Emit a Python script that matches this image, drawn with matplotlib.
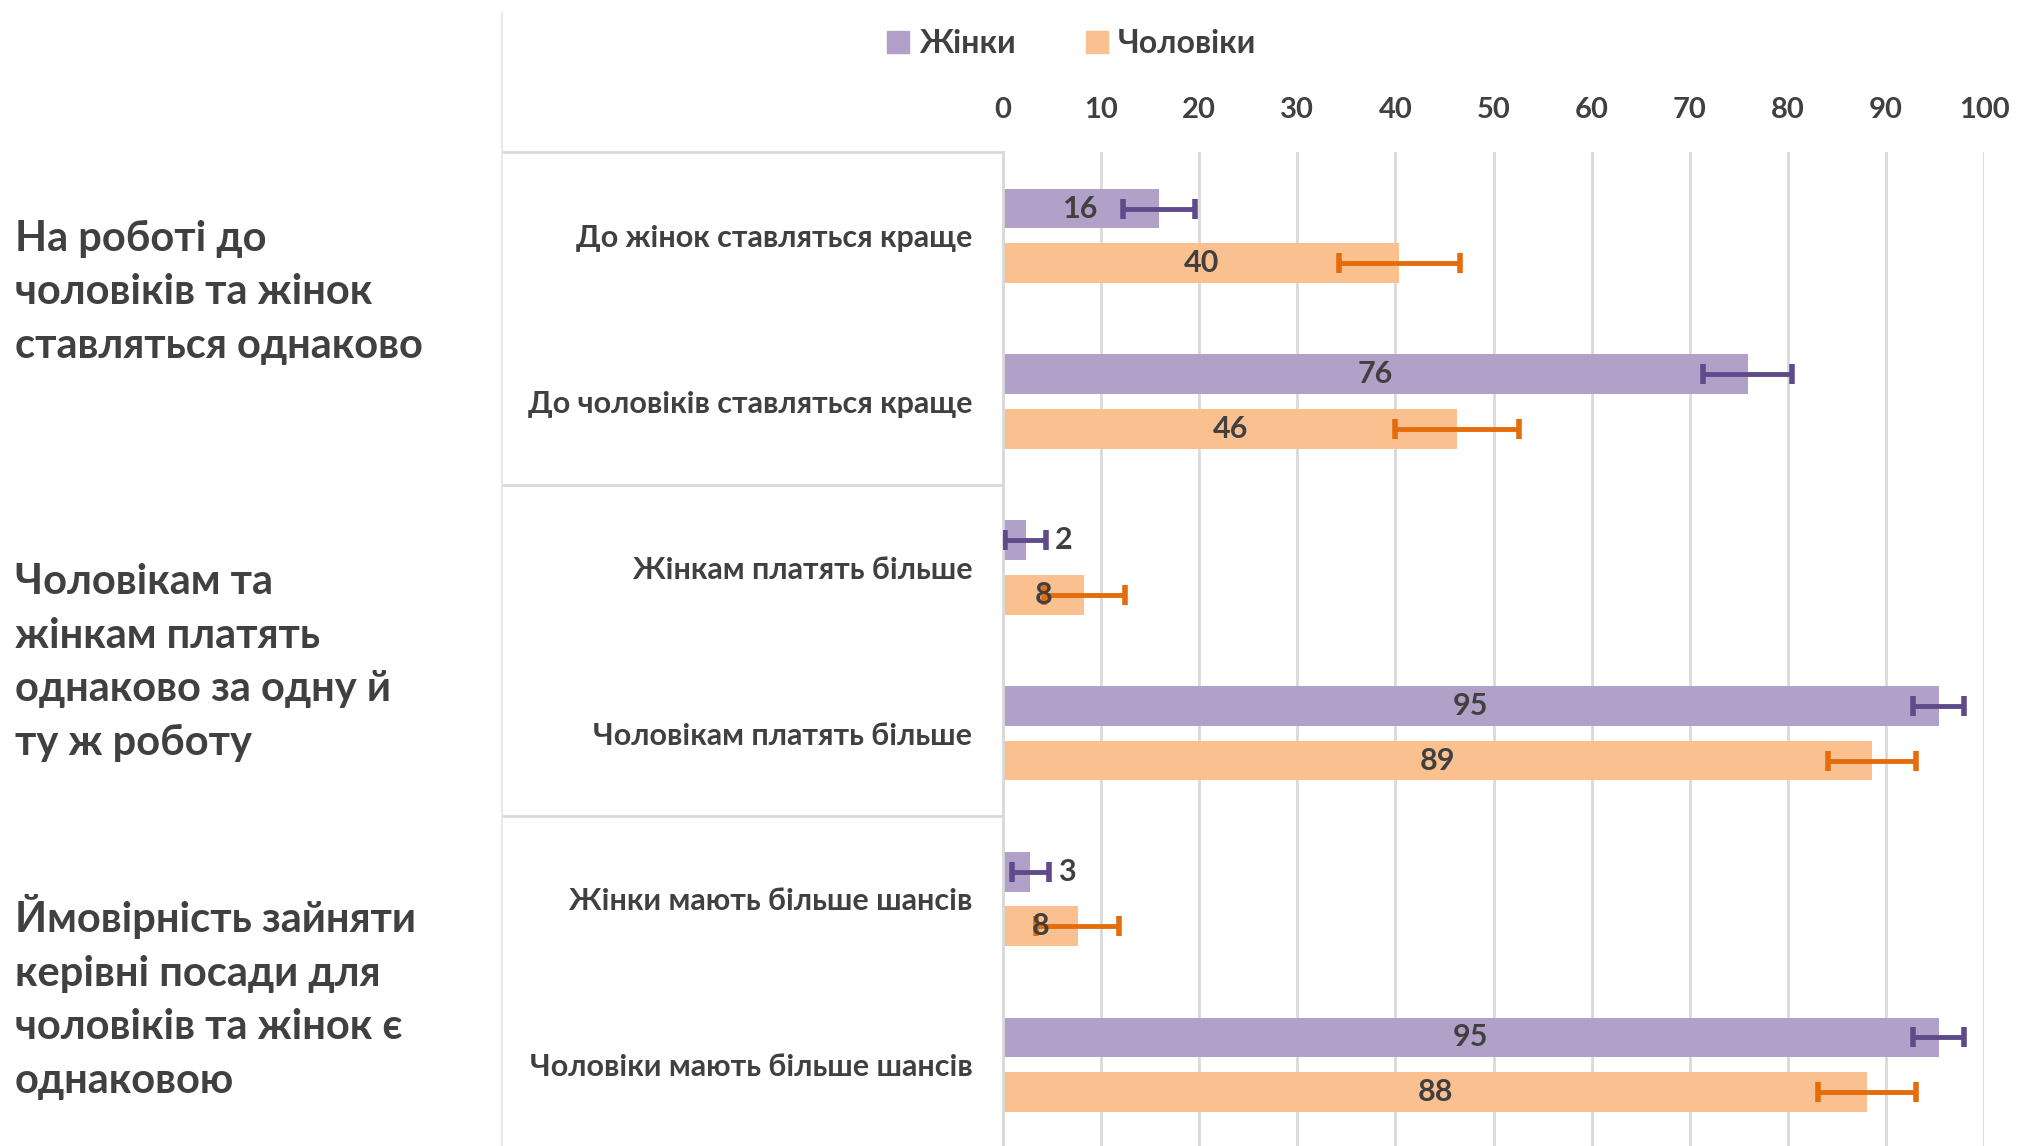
import numpy as np
import matplotlib
matplotlib.use("Agg")
import matplotlib.pyplot as plt
import matplotlib.transforms as mtransforms
from matplotlib.patches import Patch
from matplotlib.lines import Line2D

plt.rcParams['font.family'] = ['Lato', 'DejaVu Sans']

# data
categories = ["До жінок ставляться краще", "До чоловіків ставляться краще",
              "Жінкам платять більше", "Чоловікам платять більше",
              "Жінки мають більше шансів", "Чоловіки мають більше шансів"]
groups = ["На роботі до\nчоловіків та жінок\nставляться однаково",
          "Чоловікам та\nжінкам платять\nоднаково за одну й\nту ж роботу",
          "Ймовірність зайняти\nкерівні посади для\nчоловіків та жінок є\nоднаковою"]
series = ["Жінки", "Чоловіки"]
women = [15.9, 75.9, 2.3, 95.4, 2.8, 95.4]
women_err = [3.7, 4.5, 2.1, 2.6, 1.9, 2.6]
men = [40.4, 46.3, 8.3, 88.6, 7.6, 88.1]
men_err = [6.2, 6.3, 4.1, 4.5, 4.2, 5.0]
ticks = list(range(0, 101, 10))

# style
W, H = 2018, 1146
txt = '#404040'
grid_c = '#D9D9D9'
bar_cols = ['#B1A0C7', '#FAC090']
err_cols = ['#5F4B8B', '#E46C0A']

fig = plt.figure(figsize=(W / 100, H / 100), dpi=100)
ax = fig.add_axes([1003 / W, 0, 981 / W, 994 / H])

y = np.arange(len(categories))
off = 0.165
h = 0.24
for vals, errs, sign, bc, ec in [(women, women_err, -1, bar_cols[0], err_cols[0]),
                                 (men, men_err, 1, bar_cols[1], err_cols[1])]:
    yy = y + sign * off
    ax.barh(yy, vals, height=h, color=bc, zorder=2)
    ax.errorbar(vals, yy, xerr=errs, fmt='none', ecolor=ec, elinewidth=3.5,
                capsize=7, capthick=4, zorder=3)
    for v, e, yc in zip(vals, errs, yy):
        if v < 5:
            ax.text(v + e + 0.9, yc, '%.0f' % v, ha='left', va='center',
                    fontsize=22, fontweight='bold', color=txt, zorder=4)
        else:
            ax.text(v / 2, yc, '%.0f' % v, ha='center', va='center',
                    fontsize=22, fontweight='bold', color=txt, zorder=4)

ax.set_xlim(0, 100)
ax.set_ylim(5.49, -0.506)
ax.xaxis.tick_top()
ax.set_xticks(ticks)
ax.tick_params(axis='x', length=0, pad=21, labelsize=21, labelcolor=txt)
for lab in ax.get_xticklabels():
    lab.set_fontweight('bold')
ax.set_yticks(y, categories)
ax.tick_params(axis='y', length=0, pad=22, labelsize=22, labelcolor=txt)
for lab in ax.get_yticklabels():
    lab.set_fontweight('bold')
ax.grid(axis='x', color=grid_c, lw=2, zorder=0)
ax.set_axisbelow(True)
for s in ['top', 'right', 'bottom']:
    ax.spines[s].set_visible(False)
ax.spines['left'].set_color(grid_c)
ax.spines['left'].set_linewidth(2)

# group separators of the two-level category axis
trans = mtransforms.blended_transform_factory(ax.transAxes, ax.transData)
x_left = -(1003 - 502) / 981
for ys in [-0.506, 1.5, 3.5]:
    ax.add_line(Line2D([x_left, 0], [ys, ys], transform=trans, color=grid_c,
                       lw=2, clip_on=False))
fig.add_artist(Line2D([502 / W, 502 / W], [0, 1 - 13 / H], color='#E8E8E8', lw=1.5))

# group labels
for g, fy in zip(groups, [0.745, 0.422, 0.130]):
    fig.text(15 / W, fy, g, ha='left', va='center', fontsize=30,
             fontweight='bold', color=txt, linespacing=1.5)

handles = [Patch(color=c, label=s) for c, s in zip(bar_cols, series)]
fig.legend(handles=handles, loc='center', bbox_to_anchor=(0.531, 0.962), ncol=2,
           frameon=False, handlelength=0.7, handleheight=0.7, handletextpad=0.3,
           columnspacing=2.2, prop={'size': 23, 'weight': 'bold'}, labelcolor=txt)

fig.savefig('out.png', dpi=100)
